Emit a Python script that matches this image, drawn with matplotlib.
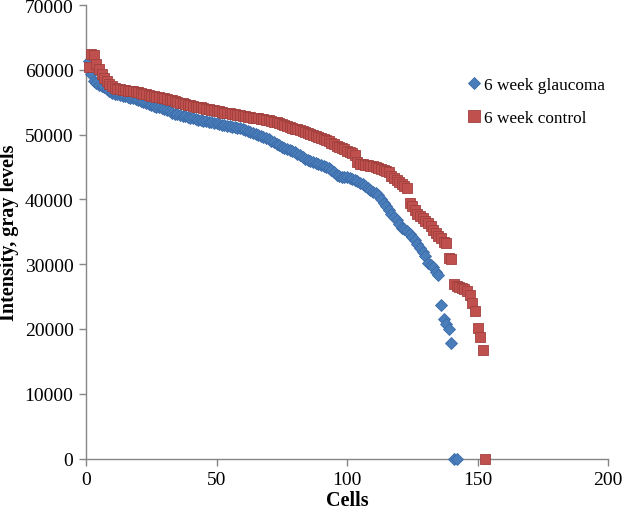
import matplotlib
matplotlib.use("Agg")
import matplotlib.pyplot as plt

# ---- data ----
glaucoma_label = "6 week glaucoma"
control_label = "6 week control"

glaucoma_y = [
    61300, 59300, 58300, 57900, 57700, 57500, 57300, 57000, 56700, 56400,
    56300, 56200, 56100, 56000, 55900, 55800, 55700, 55600, 55500, 55300,
    55150, 55000, 54850, 54700, 54550, 54400, 54300, 54200, 54100, 54000,
    53800, 53600, 53400, 53250, 53100, 53000, 52900, 52800, 52700, 52600,
    52500, 52400, 52300, 52200, 52100, 52050, 52000, 51900, 51800, 51750,
    51650, 51550, 51450, 51350, 51250, 51200, 51100, 51000, 50950, 50850,
    50700, 50550, 50400, 50250, 50100, 49950, 49800, 49650, 49450, 49250,
    49050, 48850, 48600, 48350, 48100, 47900, 47700, 47550, 47400, 47250,
    47050, 46800, 46550, 46300, 46100, 45900, 45750, 45600, 45450, 45300,
    45150, 45000, 44800, 44500, 44150, 43800, 43600, 43500, 43450, 43400,
    43350, 43200, 43000, 42800, 42600, 42400, 42100, 41700, 41400, 41200,
    41000, 40700, 40100, 39500, 38900, 38300, 37800, 37300, 36800, 36200,
    35600, 35400, 35100, 34700, 34200, 33700, 33100, 32500, 31900, 31300,
    30100, 29900, 29500, 28800, 28300, 23700, 21500, 20700, 20000, 17900,
    0, 0,
]

control_y = [
    60500, 62400, 62300, 60900, 60100, 59400, 58800, 58300, 57800, 57500,
    57200, 57100, 57000, 56900, 56900, 56800, 56800, 56700, 56600, 56500,
    56400, 56300, 56200, 56100, 56000, 55900, 55850, 55800, 55700, 55600,
    55500, 55400, 55300, 55200, 55100, 54950, 54800, 54700, 54600, 54500,
    54400, 54300, 54250, 54200, 54100, 54000, 53950, 53850, 53800, 53700,
    53600, 53500, 53400, 53350, 53300, 53200, 53100, 53050, 53000, 52900,
    52800, 52700, 52650, 52600, 52550, 52500, 52400, 52350, 52300, 52200,
    52100, 52000, 51900, 51750, 51600, 51450, 51300, 51150, 51000, 50900,
    50800, 50650, 50500, 50350, 50200, 50050, 49900, 49750, 49600, 49450,
    49300, 49150, 48950, 48750, 48500, 48300, 48100, 47900, 47700, 47500,
    47300, 47100, 46800, 45700, 45500, 45400, 45350, 45300, 45200, 45100,
    45000, 44900, 44750, 44600, 44400, 44200, 43600, 43300, 43000, 42700,
    42400, 42100, 41800, 39400, 39000, 38400, 37800, 37400, 37100, 36700,
    36300, 35900, 35200, 34800, 34400, 34000, 33400, 33200, 30900, 30800,
    26900, 26700, 26500, 26300, 26100, 25800, 25300, 24000, 22700, 20100,
    18700, 16800, 0,
]

glaucoma_x = list(range(1, len(glaucoma_y) + 1))
control_x = list(range(1, len(control_y) + 1))

x_ticks = [0, 50, 100, 150, 200]
y_ticks = [0, 10000, 20000, 30000, 40000, 50000, 60000, 70000]
x_title = "Cells"
y_title = "Intensity, gray levels"

# ---- style ----
plt.rcParams['font.family'] = ['Liberation Serif', 'DejaVu Serif']
blue = "#4A7EBB"
blue_edge = "#3A6AA8"
red = "#C0504D"
red_edge = "#A0403D"
axis_gray = "#868686"

fig = plt.figure(figsize=(6.23, 5.10), dpi=100)
ax = fig.add_axes([86 / 623, 1 - 459.5 / 510, (608 - 86) / 623, (459.5 - 6) / 510])

ax.plot(glaucoma_x, glaucoma_y, linestyle='none', marker='D', markersize=6.0,
        markerfacecolor=blue, markeredgecolor=blue_edge, markeredgewidth=0.6,
        label=glaucoma_label, clip_on=False, zorder=3)
ax.plot(control_x, control_y, linestyle='none', marker='s', markersize=7.2,
        markerfacecolor=red, markeredgecolor=red_edge, markeredgewidth=0.6,
        label=control_label, clip_on=False, zorder=4)

ax.set_xlim(0, 200)
ax.set_ylim(0, 70000)
ax.set_xticks(x_ticks)
ax.set_yticks(y_ticks)
ax.set_xticklabels([str(t) for t in x_ticks])
ax.set_yticklabels([str(t) for t in y_ticks])

for s in ['top', 'right']:
    ax.spines[s].set_visible(False)
for s in ['left', 'bottom']:
    ax.spines[s].set_color(axis_gray)
    ax.spines[s].set_linewidth(1.0)

ax.tick_params(axis='both', direction='out', length=5, width=1.0, color=axis_gray,
               labelsize=14, labelcolor='black', pad=4)

xl = ax.set_xlabel(x_title, fontsize=14.5, fontweight='bold')
xl.set_verticalalignment('center')
ax.xaxis.set_label_coords(0.5, (459.5 - 501) / 453.5)
ax.set_ylabel(y_title, fontsize=14.5, fontweight='bold', labelpad=4)

leg = ax.legend(loc='upper left', bbox_to_anchor=(469 / 623, 1 - 78 / 510),
                bbox_transform=fig.transFigure, frameon=False, fontsize=12.4,
                handlelength=0.6, handletextpad=0.3, labelspacing=1.0,
                borderaxespad=0, borderpad=0, markerscale=1.1)

fig.savefig("out.png", dpi=100)
